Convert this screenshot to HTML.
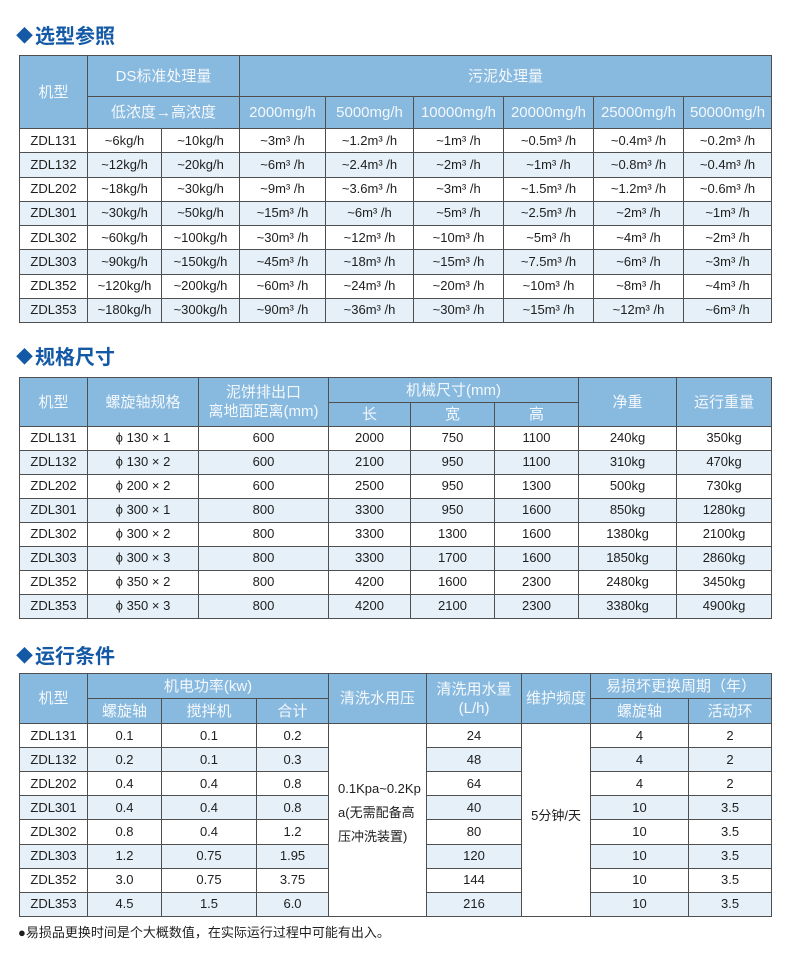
<!DOCTYPE html>
<html><head><meta charset="utf-8">
<style>
html,body{margin:0;padding:0;background:#fff;}
body{width:790px;height:964px;position:relative;overflow:hidden;font-family:"Liberation Sans","Noto Sans CJK SC",sans-serif;}
.title{position:absolute;left:16px;height:28px;line-height:28px;font-size:20px;font-weight:bold;color:#1459a6;white-space:nowrap;}
.title .d{display:inline-block;font-size:17px;margin-right:2px;position:relative;top:-1px;}
table{position:absolute;left:19px;border-collapse:collapse;table-layout:fixed;}
td{border:1px solid #4f4f4f;text-align:center;vertical-align:middle;padding:0;font-size:13px;color:#1e1e1e;white-space:nowrap;overflow:hidden;line-height:16px;}
td.h{background:#88b9df;color:#f3f8fc;font-size:15px;line-height:19px;}
tr.a td{background:#e5f0f8;}
tr.a td.w,td.w{background:#fff;}
.foot{position:absolute;left:18px;top:924px;font-size:13px;color:#1e1e1e;line-height:18px;white-space:nowrap;}
</style></head><body>

<div class="title" style="top:23px;"><span class="d">◆</span>选型参照</div>
<table style="top:55px;width:753px;">
<colgroup><col style="width:68px"><col style="width:74px"><col style="width:78px"><col style="width:86px"><col style="width:88px"><col style="width:90px"><col style="width:90px"><col style="width:90px"><col style="width:88px"></colgroup>
<tr style="height:41px"><td class="h" rowspan="2">机型</td><td class="h" colspan="2">DS标准处理量</td><td class="h" colspan="6">污泥处理量</td></tr>
<tr style="height:32px"><td class="h" colspan="2">低浓度→高浓度</td><td class="h">2000mg/h</td><td class="h">5000mg/h</td><td class="h">10000mg/h</td><td class="h">20000mg/h</td><td class="h">25000mg/h</td><td class="h">50000mg/h</td></tr>
<tr style="height:24.25px"><td>ZDL131</td><td>~6kg/h</td><td>~10kg/h</td><td>~3m³ /h</td><td>~1.2m³ /h</td><td>~1m³ /h</td><td>~0.5m³ /h</td><td>~0.4m³ /h</td><td>~0.2m³ /h</td></tr>
<tr class="a" style="height:24.25px"><td>ZDL132</td><td>~12kg/h</td><td>~20kg/h</td><td>~6m³ /h</td><td>~2.4m³ /h</td><td>~2m³ /h</td><td>~1m³ /h</td><td>~0.8m³ /h</td><td>~0.4m³ /h</td></tr>
<tr style="height:24.25px"><td>ZDL202</td><td>~18kg/h</td><td>~30kg/h</td><td>~9m³ /h</td><td>~3.6m³ /h</td><td>~3m³ /h</td><td>~1.5m³ /h</td><td>~1.2m³ /h</td><td>~0.6m³ /h</td></tr>
<tr class="a" style="height:24.25px"><td>ZDL301</td><td>~30kg/h</td><td>~50kg/h</td><td>~15m³ /h</td><td>~6m³ /h</td><td>~5m³ /h</td><td>~2.5m³ /h</td><td>~2m³ /h</td><td>~1m³ /h</td></tr>
<tr style="height:24.25px"><td>ZDL302</td><td>~60kg/h</td><td>~100kg/h</td><td>~30m³ /h</td><td>~12m³ /h</td><td>~10m³ /h</td><td>~5m³ /h</td><td>~4m³ /h</td><td>~2m³ /h</td></tr>
<tr class="a" style="height:24.25px"><td>ZDL303</td><td>~90kg/h</td><td>~150kg/h</td><td>~45m³ /h</td><td>~18m³ /h</td><td>~15m³ /h</td><td>~7.5m³ /h</td><td>~6m³ /h</td><td>~3m³ /h</td></tr>
<tr style="height:24.25px"><td>ZDL352</td><td>~120kg/h</td><td>~200kg/h</td><td>~60m³ /h</td><td>~24m³ /h</td><td>~20m³ /h</td><td>~10m³ /h</td><td>~8m³ /h</td><td>~4m³ /h</td></tr>
<tr class="a" style="height:24.25px"><td>ZDL353</td><td>~180kg/h</td><td>~300kg/h</td><td>~90m³ /h</td><td>~36m³ /h</td><td>~30m³ /h</td><td>~15m³ /h</td><td>~12m³ /h</td><td>~6m³ /h</td></tr>
</table>

<div class="title" style="top:344px;"><span class="d">◆</span>规格尺寸</div>
<table style="top:377px;width:753px;">
<colgroup><col style="width:68px"><col style="width:111px"><col style="width:130px"><col style="width:82px"><col style="width:84px"><col style="width:84px"><col style="width:98px"><col style="width:95px"></colgroup>
<tr style="height:25px"><td class="h" rowspan="2">机型</td><td class="h" rowspan="2">螺旋轴规格</td><td class="h" rowspan="2">泥饼排出口<br>离地面距离(mm)</td><td class="h" colspan="3">机械尺寸(mm)</td><td class="h" rowspan="2">净重</td><td class="h" rowspan="2">运行重量</td></tr>
<tr style="height:24px"><td class="h">长</td><td class="h">宽</td><td class="h">高</td></tr>
<tr style="height:23.94px"><td>ZDL131</td><td>ϕ 130 × 1</td><td>600</td><td>2000</td><td>750</td><td>1100</td><td>240kg</td><td>350kg</td></tr>
<tr class="a" style="height:23.94px"><td>ZDL132</td><td>ϕ 130 × 2</td><td>600</td><td>2100</td><td>950</td><td>1100</td><td>310kg</td><td>470kg</td></tr>
<tr style="height:23.94px"><td>ZDL202</td><td>ϕ 200 × 2</td><td>600</td><td>2500</td><td>950</td><td>1300</td><td>500kg</td><td>730kg</td></tr>
<tr class="a" style="height:23.94px"><td>ZDL301</td><td>ϕ 300 × 1</td><td>800</td><td>3300</td><td>950</td><td>1600</td><td>850kg</td><td>1280kg</td></tr>
<tr style="height:23.94px"><td>ZDL302</td><td>ϕ 300 × 2</td><td>800</td><td>3300</td><td>1300</td><td>1600</td><td>1380kg</td><td>2100kg</td></tr>
<tr class="a" style="height:23.94px"><td>ZDL303</td><td>ϕ 300 × 3</td><td>800</td><td>3300</td><td>1700</td><td>1600</td><td>1850kg</td><td>2860kg</td></tr>
<tr style="height:23.94px"><td>ZDL352</td><td>ϕ 350 × 2</td><td>800</td><td>4200</td><td>1600</td><td>2300</td><td>2480kg</td><td>3450kg</td></tr>
<tr class="a" style="height:23.94px"><td>ZDL353</td><td>ϕ 350 × 3</td><td>800</td><td>4200</td><td>2100</td><td>2300</td><td>3380kg</td><td>4900kg</td></tr>
</table>

<div class="title" style="top:643px;"><span class="d">◆</span>运行条件</div>
<table style="top:673px;width:753px;">
<colgroup><col style="width:68px"><col style="width:74px"><col style="width:95px"><col style="width:72px"><col style="width:98px"><col style="width:95px"><col style="width:69px"><col style="width:98px"><col style="width:83px"></colgroup>
<tr style="height:25px"><td class="h" rowspan="2">机型</td><td class="h" colspan="3">机电功率(kw)</td><td class="h" rowspan="2">清洗水用压</td><td class="h" rowspan="2">清洗用水量<br>(L/h)</td><td class="h" rowspan="2">维护频度</td><td class="h" colspan="2">易损坏更换周期（年）</td></tr>
<tr style="height:25px"><td class="h">螺旋轴</td><td class="h">搅拌机</td><td class="h">合计</td><td class="h">螺旋轴</td><td class="h">活动环</td></tr>
<tr style="height:24.12px"><td>ZDL131</td><td>0.1</td><td>0.1</td><td>0.2</td><td class="w" rowspan="8" style="text-align:left;padding-left:9px;line-height:24px;padding-bottom:14px;">0.1Kpa~0.2Kp<br>a(无需配备高<br>压冲洗装置)</td><td>24</td><td class="w" rowspan="8" style="padding-bottom:8px;">5分钟/天</td><td>4</td><td>2</td></tr>
<tr class="a" style="height:24.12px"><td>ZDL132</td><td>0.2</td><td>0.1</td><td>0.3</td><td>48</td><td>4</td><td>2</td></tr>
<tr style="height:24.12px"><td>ZDL202</td><td>0.4</td><td>0.4</td><td>0.8</td><td>64</td><td>4</td><td>2</td></tr>
<tr class="a" style="height:24.12px"><td>ZDL301</td><td>0.4</td><td>0.4</td><td>0.8</td><td>40</td><td>10</td><td>3.5</td></tr>
<tr style="height:24.12px"><td>ZDL302</td><td>0.8</td><td>0.4</td><td>1.2</td><td>80</td><td>10</td><td>3.5</td></tr>
<tr class="a" style="height:24.12px"><td>ZDL303</td><td>1.2</td><td>0.75</td><td>1.95</td><td>120</td><td>10</td><td>3.5</td></tr>
<tr style="height:24.12px"><td>ZDL352</td><td>3.0</td><td>0.75</td><td>3.75</td><td>144</td><td>10</td><td>3.5</td></tr>
<tr class="a" style="height:24.12px"><td>ZDL353</td><td>4.5</td><td>1.5</td><td>6.0</td><td>216</td><td>10</td><td>3.5</td></tr>
</table>

<div class="foot">●易损品更换时间是个大概数值，在实际运行过程中可能有出入。</div>
</body></html>
